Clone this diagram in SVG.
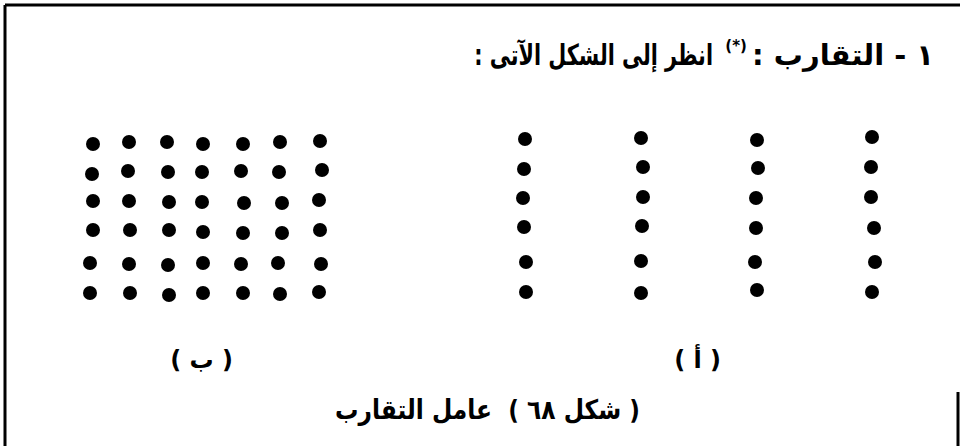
<svg xmlns="http://www.w3.org/2000/svg" width="960" height="446" viewBox="0 0 960 446">
<style>
.t{font-family:"DejaVu Sans","Noto Sans",sans-serif;font-weight:bold;fill:#000;direction:rtl;text-anchor:start;}
.frame{stroke:#000;stroke-width:3;fill:none;}
.d{fill:#000;}
</style>
<defs><circle id="dot" r="7"/></defs>
<rect width="960" height="446" fill="#fff"/>
<g id="frame">
<line class="frame" x1="5" y1="5" x2="960" y2="5"/>
<line class="frame" x1="5" y1="5" x2="5" y2="446"/>
<line class="frame" x1="958" y1="392" x2="958" y2="446"/>
</g>
<g id="title">
<text class="t" x="934" y="65" font-size="29" xml:space="preserve">١ - التقارب :<tspan font-size="15" dy="-14"> (*)</tspan></text>
<text class="t" x="0" y="0" font-size="29" transform="translate(713,65) scale(0.715,1)">انظر إلى الشكل الآتى :</text>
</g>
<g id="group-b" class="d">
<use href="#dot" x="93" y="144"/><use href="#dot" x="129" y="142"/><use href="#dot" x="167" y="142"/><use href="#dot" x="203" y="144"/><use href="#dot" x="243" y="144"/><use href="#dot" x="280" y="142"/><use href="#dot" x="320" y="141"/>
<use href="#dot" x="92" y="174"/><use href="#dot" x="128" y="171"/><use href="#dot" x="168" y="172"/><use href="#dot" x="202" y="172"/><use href="#dot" x="241" y="171"/><use href="#dot" x="279" y="172"/><use href="#dot" x="322" y="170"/>
<use href="#dot" x="93" y="201"/><use href="#dot" x="129" y="201"/><use href="#dot" x="169" y="202"/><use href="#dot" x="202" y="202"/><use href="#dot" x="244" y="203"/><use href="#dot" x="282" y="203"/><use href="#dot" x="319" y="200"/>
<use href="#dot" x="93" y="230"/><use href="#dot" x="130" y="230"/><use href="#dot" x="169" y="230"/><use href="#dot" x="203" y="232"/><use href="#dot" x="243" y="233"/><use href="#dot" x="282" y="233"/><use href="#dot" x="320" y="230"/>
<use href="#dot" x="90" y="263"/><use href="#dot" x="129" y="264"/><use href="#dot" x="168" y="265"/><use href="#dot" x="203" y="263"/><use href="#dot" x="241" y="264"/><use href="#dot" x="278" y="263"/><use href="#dot" x="321" y="264"/>
<use href="#dot" x="90" y="293"/><use href="#dot" x="130" y="293"/><use href="#dot" x="169" y="295"/><use href="#dot" x="203" y="293"/><use href="#dot" x="243" y="293"/><use href="#dot" x="280" y="294"/><use href="#dot" x="319" y="292"/>
</g>
<g id="group-a" class="d">
<use href="#dot" x="525" y="139"/><use href="#dot" x="524" y="169"/><use href="#dot" x="523" y="198"/><use href="#dot" x="524" y="227"/><use href="#dot" x="526" y="262"/><use href="#dot" x="526" y="292"/>
<use href="#dot" x="641" y="138"/><use href="#dot" x="643" y="167"/><use href="#dot" x="643" y="197"/><use href="#dot" x="642" y="226"/><use href="#dot" x="641" y="261"/><use href="#dot" x="641" y="293"/>
<use href="#dot" x="757" y="140"/><use href="#dot" x="758" y="168"/><use href="#dot" x="756" y="198"/><use href="#dot" x="756" y="228"/><use href="#dot" x="755" y="262"/><use href="#dot" x="757" y="290"/>
<use href="#dot" x="872" y="137"/><use href="#dot" x="871" y="167"/><use href="#dot" x="871" y="197"/><use href="#dot" x="874" y="228"/><use href="#dot" x="875" y="262"/><use href="#dot" x="872" y="292"/>
</g>
<g id="label-b"><text class="t" x="233" y="368" font-size="24">( ب )</text></g>
<g id="label-a"><text class="t" x="721" y="368" font-size="24">( أ )</text></g>
<g id="caption"><text class="t" x="640" y="419" font-size="27" xml:space="preserve" textLength="305" lengthAdjust="spacingAndGlyphs">( شكل ٦٨ )  عامل التقارب</text></g>
</svg>
